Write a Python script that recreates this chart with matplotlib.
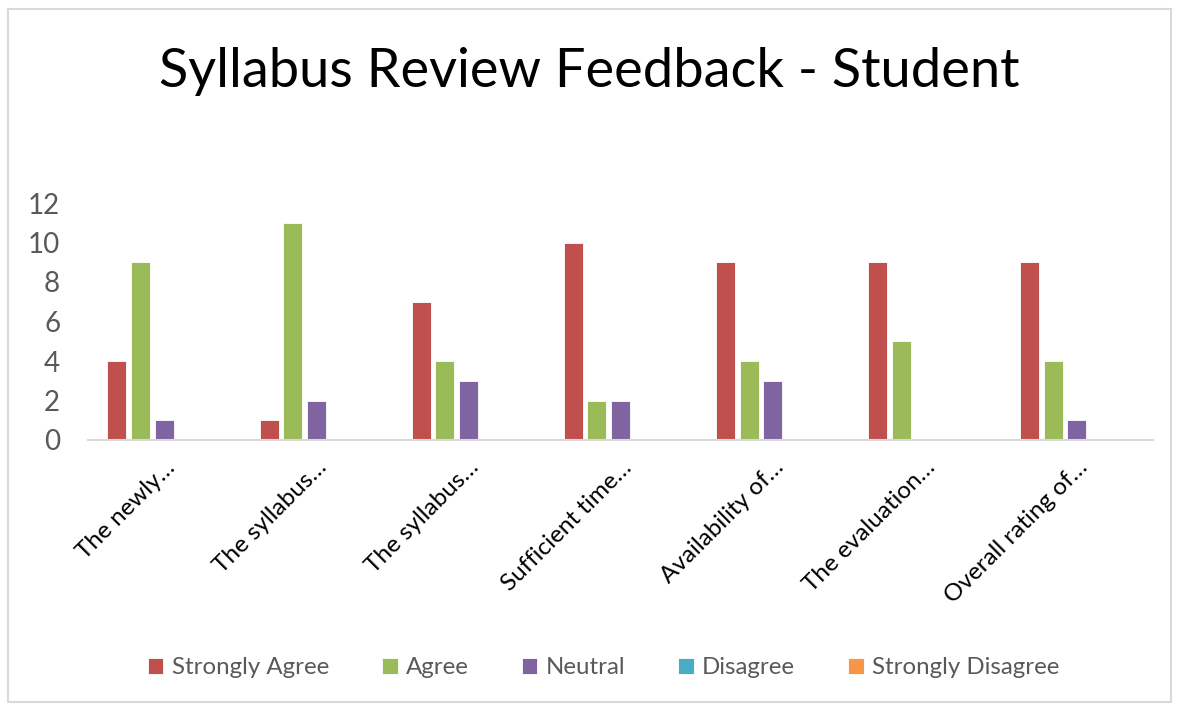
import numpy as np
import matplotlib.pyplot as plt
from matplotlib.patches import Rectangle

plt.rcParams['font.family'] = ['Lato', 'DejaVu Sans']

# --- data ---
categories = ["The newly…", "The syllabus…", "The syllabus…", "Sufficient time…",
              "Availability of…", "The evaluation…", "Overall rating of…"]
series_names = ["Strongly Agree", "Agree", "Neutral", "Disagree", "Strongly Disagree"]
strongly_agree = [4, 1, 7, 10, 9, 9, 9]
agree = [9, 11, 4, 2, 4, 5, 4]
neutral = [1, 2, 3, 2, 3, 0, 1]
disagree = [0, 0, 0, 0, 0, 0, 0]
strongly_disagree = [0, 0, 0, 0, 0, 0, 0]
yticks = [0, 2, 4, 6, 8, 10, 12]

colors = ['#C0504D', '#9BBB59', '#8064A2', '#4BACC6', '#F79646']
all_series = [strongly_agree, agree, neutral, disagree, strongly_disagree]

fig = plt.figure(figsize=(11.79, 7.09), dpi=100)
# chart border like the office chart frame
fig.patches.append(Rectangle((8 / 1179, 7 / 709), 1163 / 1179, 693 / 709,
                             transform=fig.transFigure, fill=False,
                             edgecolor='#D9D9D9', lw=1.5))

ax = fig.add_axes([88 / 1179, 1 - 440 / 709, (1153 - 88) / 1179, (440 - 203) / 709])

x = np.arange(len(categories))
step = 0.155
w = 0.125
for i, (name, vals) in enumerate(zip(series_names, all_series)):
    ax.bar(x + (i - 2) * step, vals, width=w, color=colors[i], label=name,
           edgecolor='white', linewidth=0.6)

ax.set_xlim(-0.5, len(categories) - 0.5)
ax.set_ylim(0, 12)
ax.set_yticks(yticks)
ax.set_yticklabels([str(t) for t in yticks], fontsize=20, color='#595959')
ax.tick_params(axis='y', length=0, pad=20)
ax.set_xticks(x)
ax.set_xticklabels(categories, rotation=45, ha='right', rotation_mode='anchor',
                   fontsize=17.5, color='black')
ax.tick_params(axis='x', length=0, pad=12)
for s in ['top', 'right', 'left']:
    ax.spines[s].set_visible(False)
ax.spines['bottom'].set_color('#D9D9D9')
ax.spines['bottom'].set_linewidth(1.5)

fig.text(0.5, 1 - 72 / 709, "Syllabus Review Feedback - Student", ha='center',
         va='center', fontsize=39, color='black')

leg = fig.legend(loc='center', bbox_to_anchor=(0.512, 1 - 668 / 709), ncol=5,
                 frameon=False, fontsize=17.3, handlelength=0.65, handleheight=0.65,
                 handletextpad=0.35, columnspacing=2.2)
for t in leg.get_texts():
    t.set_color('#595959')

fig.savefig('out.png', dpi=100)
